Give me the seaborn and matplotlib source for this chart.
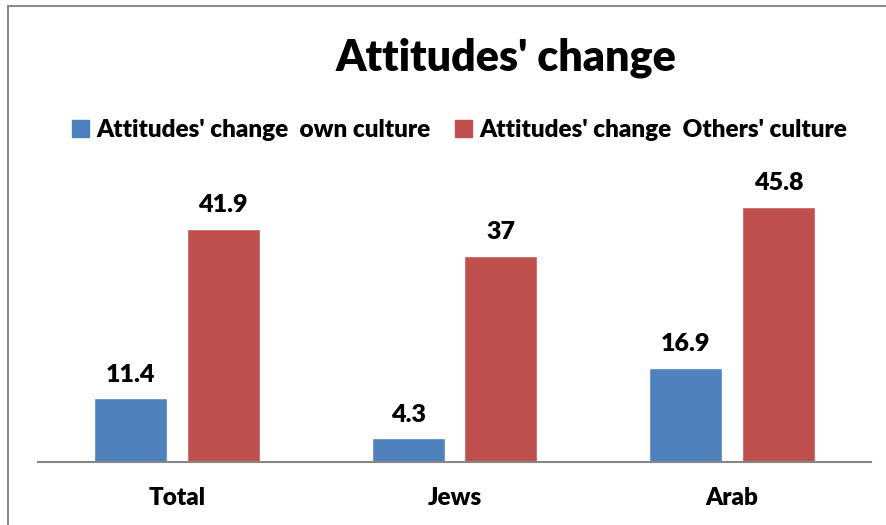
import pandas as pd
import seaborn as sns
import matplotlib.pyplot as plt
from matplotlib.patches import Rectangle

# chart data
groups = ["Total", "Jews", "Arab"]
own_culture = [11.4, 4.3, 16.9]
others_culture = [41.9, 37, 45.8]
series_names = ["Attitudes' change  own culture", "Attitudes' change  Others' culture"]
colors = ["#4F81BD", "#C0504D"]

df = pd.DataFrame({
    "Group": groups * 2,
    "Value": own_culture + others_culture,
    "Series": [series_names[0]] * 3 + [series_names[1]] * 3,
})

sns.set_style("white")
plt.rcParams['font.family'] = ['Lato', 'DejaVu Sans']
plt.rcParams['text.color'] = 'black'
plt.rcParams['xtick.color'] = 'black'

fig = plt.figure(figsize=(8.87, 5.25), dpi=100)
ax = fig.add_axes([0.0428, 0.12, 0.9392, 0.5305])

sns.barplot(data=df, x="Group", y="Value", hue="Series", palette=colors,
            saturation=1, width=0.668, ax=ax, legend=False)

# narrow the bars a bit so there's a gap between them
for p in ax.patches:
    c = p.get_x() + p.get_width() / 2
    p.set_width(0.263)
    p.set_x(c - 0.263 / 2)

for cont in ax.containers:
    labels = ["%g" % v for v in cont.datavalues]
    ax.bar_label(cont, labels=labels, padding=9, fontsize=18, fontweight='heavy',
                 color='black')

ax.set_ylim(0, 50)
ax.set_xlim(-0.5, 2.5)
ax.set_xlabel("")
ax.set_ylabel("")
ax.set_yticks([])
ax.tick_params(axis='x', length=0, pad=18, labelsize=17.5, labelcolor='black')
for lbl in ax.get_xticklabels():
    lbl.set_fontweight('heavy')
for s in ["top", "left", "right"]:
    ax.spines[s].set_visible(False)
ax.spines["bottom"].set_color("#868686")
ax.spines["bottom"].set_linewidth(1.5)

fig.text(0.571, 0.89, "Attitudes' change", ha='center', va='center',
         fontsize=31, fontweight='heavy', color='black')

handles = [Rectangle((0, 0), 1, 1, color=c) for c in colors]
fig.legend(handles, series_names, loc='center', bbox_to_anchor=(0.518, 0.752),
           ncol=2, frameon=False, handlelength=0.7, handleheight=0.7,
           handletextpad=0.3, columnspacing=1.0, labelcolor='black',
           prop={'weight': 'heavy', 'size': 17.5})

# chart border (right/bottom edges cut off in the original)
fig.patches.append(Rectangle((8 / 887, -0.1), 1.1, 1.1 - 6 / 525,
                             transform=fig.transFigure, fill=False,
                             edgecolor="#8c8c8c", linewidth=1.5))

fig.savefig("out.png", dpi=100)
